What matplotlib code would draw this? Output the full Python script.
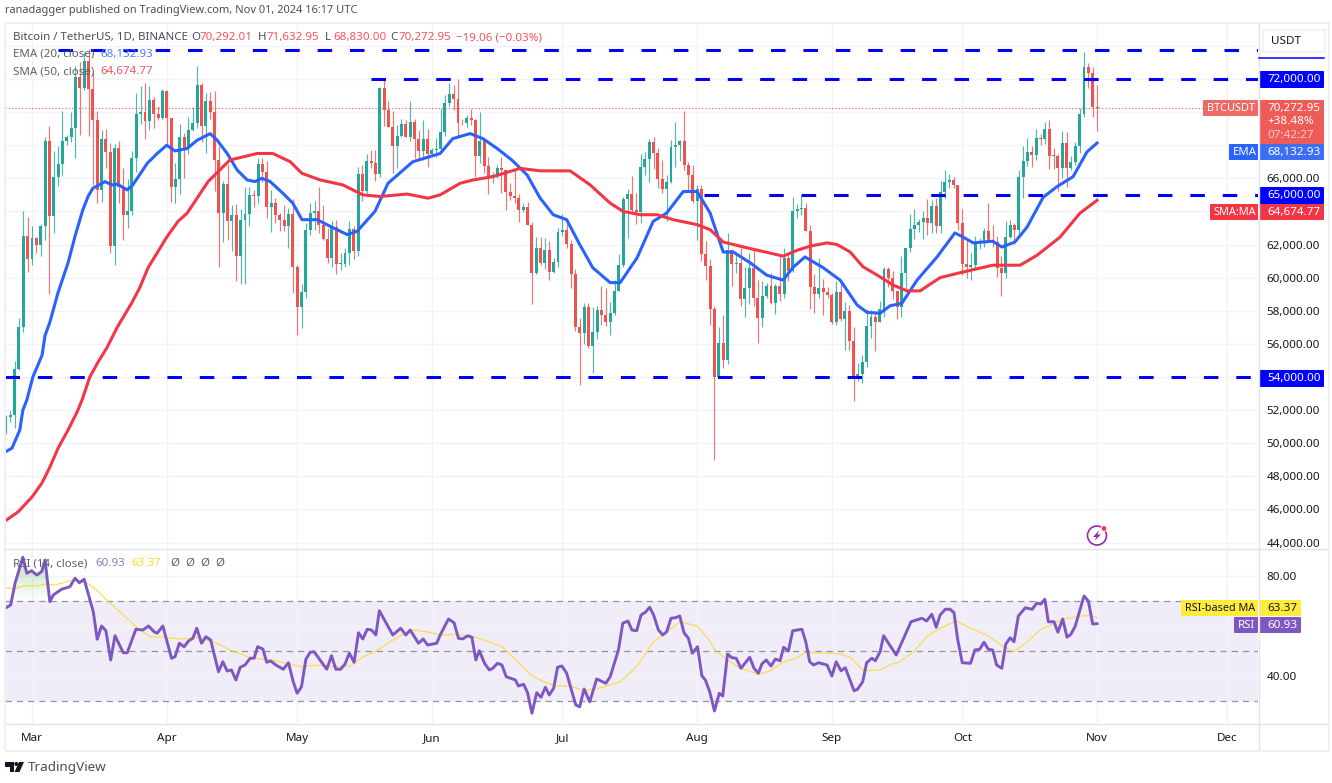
import matplotlib
matplotlib.use("Agg")
import matplotlib.pyplot as plt
import matplotlib.patches as mpatches
import numpy as np

plt.rcParams['font.family'] = ['Noto Sans', 'DejaVu Sans']

# prices in thousands of USDT, first candle is Feb 24 2024 (day -6, Mar 1 is day 0)
first_day = -6
opens = [50.73, 51.57, 51.73, 54.48, 57.04, 62.50,
    61.13, 62.39, 61.99, 63.11, 68.25, 63.72, 66.07, 66.88, 68.27, 68.50, 69.02, 72.10, 71.45, 73.07, 71.39, 69.50, 65.30, 68.39, 67.61, 61.94, 67.84, 65.50, 63.80, 64.04, 67.21, 69.88, 69.99, 69.45, 70.74, 69.89, 69.65,
    71.28, 69.65, 65.46, 65.96, 68.49, 67.84, 68.90, 69.36, 71.62, 69.15, 70.64, 70.01, 67.12, 63.92, 65.66, 63.42, 63.79, 61.28, 63.47, 63.82, 64.94, 64.93, 66.84, 66.41, 64.28, 64.50, 63.77, 63.46, 63.12, 63.87,
    60.67, 58.25, 59.12, 62.88, 63.89, 64.01, 63.16, 62.31, 61.19, 63.07, 60.80, 60.83, 61.48, 62.94, 61.58, 66.27, 65.23, 67.05, 66.94, 66.28, 71.45, 70.14, 69.12, 67.93, 68.53, 69.28, 68.51, 69.39, 68.37, 67.63, 68.35,
    67.49, 67.71, 67.75, 68.80, 70.57, 71.08, 70.79, 69.36, 69.31, 69.65, 69.51, 67.32, 68.24, 66.75, 66.01, 66.19, 66.64, 66.49, 65.15, 64.96, 64.83, 64.10, 64.25, 63.18, 60.28, 61.81, 60.86, 61.68, 60.32, 60.92,
    62.77, 62.90, 62.02, 60.20, 57.04, 56.64, 58.23, 55.85, 56.70, 58.04, 57.72, 57.34, 57.89, 59.20, 60.79, 64.72, 65.04, 64.09, 63.97, 66.71, 67.16, 68.17, 67.55, 65.93, 65.37, 65.78, 67.90, 68.00, 68.25, 66.78, 66.19,
    64.62, 65.36, 61.42, 60.68, 58.12, 53.99, 56.03, 55.03, 61.68, 60.82, 60.89, 58.71, 59.35, 60.60, 58.74, 57.56, 58.87, 59.48, 58.44, 59.49, 59.01, 61.16, 60.38, 64.04, 64.16, 64.22, 62.83, 59.42, 59.03, 59.37, 59.12,
    58.97, 57.30, 59.13, 57.48, 57.97, 56.16, 53.95, 54.16, 54.88, 57.05, 57.65, 57.34, 58.13, 60.50, 60.00, 59.21, 58.21, 60.31, 61.76, 62.95, 63.20, 63.35, 63.58, 63.33, 64.30, 63.14, 65.18, 65.77, 65.88, 65.60,
    63.33, 60.81, 60.63, 60.75, 62.08, 62.09, 62.82, 62.22, 62.13, 60.58, 60.27, 62.45, 63.19, 62.85, 66.05, 67.04, 67.61, 67.40, 68.43, 68.36, 69.00, 67.37, 67.36, 66.65, 68.16, 66.64, 67.01, 67.93, 69.91, 72.72, 72.34,
    70.29]
highs = [51.68, 51.96, 54.94, 57.59, 64.00, 63.68,
    63.11, 62.43, 63.23, 68.50, 69.17, 67.64, 67.98, 70.08, 68.59, 70.00, 72.80, 73.00, 73.65, 73.78, 72.42, 70.04, 68.90, 68.96, 68.12, 68.10, 68.24, 66.65, 65.97, 67.62, 71.15, 71.56, 71.77, 71.55, 70.90, 70.36, 71.37,
    71.34, 69.67, 66.90, 69.29, 68.72, 69.70, 70.33, 72.80, 71.76, 71.17, 71.23, 71.26, 67.93, 65.84, 66.87, 64.36, 64.47, 64.13, 65.45, 65.45, 65.30, 67.23, 67.21, 67.07, 65.27, 64.79, 63.92, 64.36, 64.23, 64.73,
    60.78, 59.60, 63.32, 64.50, 64.65, 65.50, 64.39, 62.98, 63.40, 63.47, 61.49, 61.82, 63.45, 63.10, 66.70, 66.80, 67.45, 67.70, 67.70, 71.52, 71.98, 70.65, 70.08, 69.22, 69.57, 69.50, 70.69, 69.56, 68.90, 69.50, 69.00,
    67.86, 68.45, 70.27, 71.06, 71.76, 71.63, 71.99, 69.58, 69.85, 70.20, 69.56, 70.00, 68.45, 67.30, 66.40, 66.80, 67.30, 66.58, 65.73, 66.48, 65.07, 64.52, 64.55, 63.37, 62.43, 62.48, 62.37, 62.19, 61.19, 63.00,
    63.86, 63.29, 62.30, 60.50, 57.55, 58.47, 58.45, 58.24, 58.30, 59.47, 59.40, 58.53, 59.85, 61.42, 64.90, 65.33, 66.13, 65.11, 67.47, 67.60, 68.37, 68.48, 67.80, 67.10, 66.17, 68.30, 69.40, 68.32, 70.08, 67.00, 66.80,
    65.59, 65.60, 62.19, 61.11, 58.29, 57.04, 57.72, 62.67, 61.74, 61.40, 61.82, 60.64, 61.50, 61.73, 59.84, 59.80, 59.65, 60.26, 59.60, 61.40, 61.80, 61.40, 64.90, 64.47, 65.00, 64.49, 63.20, 60.20, 61.17, 59.90, 59.43,
    59.08, 59.80, 59.81, 58.52, 58.33, 57.00, 54.85, 55.30, 58.10, 58.04, 58.00, 58.60, 60.67, 60.66, 60.40, 59.21, 61.32, 61.79, 63.87, 64.13, 63.56, 64.00, 64.75, 64.69, 64.80, 65.84, 66.50, 66.26, 66.08, 65.60,
    64.13, 62.39, 61.47, 62.50, 62.37, 62.98, 64.48, 63.20, 62.54, 61.32, 63.42, 63.48, 63.28, 66.50, 67.95, 68.42, 67.94, 68.97, 68.69, 69.40, 69.52, 67.84, 67.45, 68.84, 68.77, 67.32, 68.22, 70.27, 73.62, 72.96, 72.70,
    71.63]
lows = [50.58, 51.28, 50.90, 54.45, 56.69, 60.37,
    60.79, 61.46, 61.32, 62.30, 59.00, 62.70, 65.55, 66.20, 68.00, 68.20, 67.20, 68.62, 71.33, 68.56, 65.60, 64.52, 64.55, 66.60, 61.50, 60.78, 64.53, 62.26, 63.00, 63.80, 66.39, 69.28, 68.38, 68.90, 69.05, 69.50, 69.60,
    68.06, 64.55, 64.49, 65.06, 66.01, 67.45, 68.85, 69.04, 68.21, 67.52, 69.57, 65.25, 60.66, 62.13, 62.30, 61.63, 59.77, 59.60, 59.60, 63.10, 64.24, 64.50, 65.75, 63.60, 62.78, 63.32, 62.79, 62.80, 61.76, 59.10,
    56.55, 56.94, 58.80, 62.58, 62.90, 62.70, 62.25, 60.90, 60.65, 60.19, 60.49, 60.63, 60.75, 61.15, 61.31, 64.60, 65.12, 66.60, 65.86, 66.06, 69.16, 69.12, 66.30, 66.60, 68.50, 68.50, 68.25, 67.20, 67.11, 67.13, 66.67,
    67.39, 67.26, 67.60, 68.56, 70.38, 70.12, 68.50, 69.20, 69.12, 69.21, 66.05, 66.90, 66.30, 65.08, 65.70, 66.00, 65.10, 64.06, 64.69, 64.50, 63.38, 63.94, 63.20, 58.40, 60.24, 60.77, 60.50, 59.85, 60.28, 60.64,
    62.50, 61.80, 59.40, 56.77, 53.49, 56.01, 55.72, 54.26, 56.29, 57.16, 57.05, 56.52, 57.77, 59.22, 60.63, 62.38, 63.90, 63.23, 63.30, 66.22, 65.78, 66.57, 65.44, 65.10, 63.42, 65.74, 66.67, 67.07, 66.48, 65.30, 64.53,
    62.25, 61.00, 59.85, 57.13, 49.00, 53.95, 54.56, 54.76, 59.50, 60.30, 58.30, 57.64, 58.40, 58.30, 56.08, 57.00, 58.79, 58.42, 57.80, 58.60, 58.80, 59.80, 60.35, 63.60, 63.80, 62.80, 58.12, 57.85, 58.75, 57.75, 58.76,
    57.20, 57.12, 57.41, 55.60, 55.60, 52.55, 53.74, 53.63, 54.59, 56.38, 55.55, 57.32, 57.63, 59.46, 58.70, 57.49, 57.61, 59.17, 61.57, 62.35, 62.75, 62.35, 62.60, 62.70, 62.70, 62.67, 64.84, 65.42, 65.42, 62.85,
    60.16, 59.98, 59.83, 60.45, 61.70, 61.83, 62.13, 61.86, 60.05, 58.90, 60.00, 62.41, 62.05, 62.44, 64.80, 66.75, 66.67, 67.12, 68.02, 68.10, 66.57, 66.57, 65.26, 66.00, 65.50, 66.50, 66.80, 67.50, 69.73, 71.44, 69.68,
    68.83]
closes = [51.57, 51.73, 54.48, 57.04, 62.50, 61.13,
    62.39, 61.99, 63.11, 68.25, 63.72, 66.07, 66.88, 68.27, 68.50, 69.02, 72.10, 71.45, 73.07, 71.39, 69.50, 65.30, 68.39, 67.61, 61.94, 67.84, 65.50, 63.80, 64.04, 67.21, 69.88, 69.99, 69.45, 70.74, 69.89, 69.65, 71.28,
    69.65, 65.46, 65.96, 68.49, 67.84, 68.90, 69.36, 71.62, 69.15, 70.64, 70.01, 67.12, 63.92, 65.66, 63.42, 63.79, 61.28, 63.47, 63.82, 64.99, 64.93, 66.84, 66.41, 64.28, 64.50, 63.77, 63.46, 63.12, 63.87, 60.67,
    58.25, 59.12, 62.88, 63.89, 64.01, 63.16, 62.31, 61.19, 63.07, 60.80, 60.83, 61.48, 62.94, 61.58, 66.27, 65.23, 67.05, 66.94, 66.28, 71.45, 70.14, 69.12, 67.93, 68.53, 69.28, 68.51, 69.39, 68.37, 67.63, 68.35, 67.49,
    67.71, 67.75, 68.80, 70.57, 71.08, 70.79, 69.36, 69.31, 69.65, 69.51, 67.32, 68.24, 66.75, 66.01, 66.19, 66.64, 66.49, 65.15, 64.96, 64.83, 64.10, 64.25, 63.18, 60.28, 61.81, 60.86, 61.68, 60.32, 60.92, 62.77,
    62.90, 62.02, 60.20, 57.04, 56.64, 58.23, 55.85, 56.70, 58.04, 57.72, 57.34, 57.89, 59.20, 60.79, 64.72, 65.04, 64.09, 63.97, 66.71, 67.16, 68.17, 67.55, 65.93, 65.37, 65.78, 67.90, 68.00, 68.25, 66.78, 66.19, 64.62,
    65.36, 61.42, 60.68, 58.12, 53.99, 56.03, 55.03, 61.68, 60.82, 60.89, 58.71, 59.35, 60.60, 58.74, 57.56, 58.87, 59.48, 58.44, 59.49, 59.01, 61.16, 60.38, 64.04, 64.16, 64.22, 62.83, 59.42, 59.03, 59.37, 59.12, 58.97,
    57.30, 59.13, 57.48, 57.97, 56.16, 53.95, 54.16, 54.88, 57.05, 57.65, 57.34, 58.13, 60.50, 60.00, 59.21, 58.21, 60.31, 61.76, 62.95, 63.20, 63.35, 63.58, 63.33, 64.30, 63.14, 65.18, 65.77, 65.88, 65.60, 63.33,
    60.81, 60.63, 60.75, 62.08, 62.09, 62.82, 62.22, 62.13, 60.58, 60.27, 62.45, 63.19, 62.85, 66.05, 67.04, 67.61, 67.40, 68.43, 68.36, 69.00, 67.37, 67.36, 66.65, 68.16, 66.64, 67.01, 67.93, 69.91, 72.72, 72.34, 70.29,
    70.27]

ema_days = [-6.2, -4.6, -2.8, -2.1, -1.2, 0.2, 2.3, 3, 4.1, 6, 8.3, 9.9, 11.7, 12.9, 14, 16.8, 18.4, 19.6, 21.9, 23.2, 26.5, 28.8, 31, 32.9, 35.7, 38, 41, 42.6, 44.9, 47.2, 49.5, 51.3, 52.9, 54.8, 57.7, 60, 62.1, 65.6, 68.6, 72.5, 74.8, 78.9, 81.9, 87.6, 93.9, 96.8, 100.8, 103.7, 107, 110.4, 113.9, 116.9, 119.9, 123, 126, 129, 133, 135.3, 139.2, 142.9, 146, 149.8, 153, 156, 159, 161.3, 165.2, 169, 172.8, 175, 177.8, 182, 185.9, 189.8, 192.1, 195.1, 197.4, 200.1, 203.6, 208.2, 212.3, 214.2, 216.5, 221, 223.1, 226.1, 228.9, 232.6, 235.8, 239.5, 242.7, 245]
ema_vals = [49.47, 49.7, 50.8, 52.0, 52.6, 54.0, 55.3, 56.5, 57.3, 59.1, 60.9, 62.5, 64.1, 64.9, 65.4, 65.8, 65.6, 65.65, 65.3, 65.6, 66.9, 67.5, 68.0, 67.65, 67.8, 68.3, 68.7, 68.3, 67.5, 66.5, 65.9, 65.8, 66.0, 65.8, 65.1, 64.5, 63.5, 63.5, 63.1, 62.6, 62.8, 64.0, 65.7, 67.0, 67.5, 68.4, 68.7, 68.4, 67.8, 67.1, 66.2, 64.8, 63.8, 63.5, 62.0, 60.6, 59.7, 59.7, 61.2, 63.4, 63.9, 65.2, 65.2, 63.9, 61.55, 61.55, 60.9, 60.15, 59.85, 60.6, 61.25, 60.6, 59.85, 58.35, 57.9, 57.85, 58.3, 58.45, 59.85, 61.25, 62.7, 62.45, 62.1, 62.2, 61.85, 62.15, 63.05, 64.85, 65.5, 66.1, 67.6, 68.13]

sma_days = [-6.2, -3.2, 0, 2.3, 4.1, 6, 8.3, 10.4, 11.5, 13.3, 15.2, 17.3, 19.6, 23, 24.8, 26.7, 28.8, 31, 33.6, 35.7, 40.5, 45.5, 51.8, 55.4, 59.4, 62.1, 66.3, 71.5, 76.1, 80.1, 86.3, 91.1, 93.9, 98.5, 101.5, 106, 112.3, 116.9, 123.8, 128.4, 133, 136, 139.9, 143.8, 147.5, 153, 156, 159, 164.5, 172.8, 176, 179, 182.9, 185.2, 188.2, 191.2, 193.5, 198.1, 201.3, 204.3, 208.9, 213.5, 221, 227.3, 231.2, 236.5, 241.1, 245]
sma_vals = [45.3, 45.85, 46.75, 47.6, 48.55, 49.7, 50.8, 51.9, 52.6, 54.0, 54.9, 55.8, 57.0, 58.5, 59.4, 60.6, 61.5, 62.45, 63.4, 63.9, 65.8, 67.1, 67.5, 67.5, 67.0, 66.3, 65.9, 65.6, 65.0, 64.9, 65.05, 64.8, 65.0, 65.7, 65.9, 66.1, 66.6, 66.45, 66.45, 65.6, 64.5, 64.0, 63.8, 63.8, 63.5, 63.2, 62.9, 62.15, 61.8, 61.3, 61.65, 61.9, 62.1, 62.0, 61.55, 60.65, 60.3, 59.55, 59.2, 59.2, 60.0, 60.3, 60.75, 60.75, 61.35, 62.45, 63.9, 64.67]

rsi_days = [-6.2, -4.9, -3.9, -2.1, -1.2, -0.1, 1.1, 2.2, 3, 4.1, 4.9, 6.8, 8.7, 9.9, 10.9, 12, 14.1, 15, 16, 17, 18.1, 19.1, 21, 21.9, 23.9, 25.5, 26.8, 28.1, 28.8, 30.1, 32.1, 32.9, 33.9, 35, 36, 37, 37.9, 39, 40, 41.1, 42.9, 43.9, 44.9, 45.9, 46.9, 47.9, 49, 50.2, 51.1, 51.9, 53.1, 54, 54.9, 56.1, 57.8, 59, 60.1, 61, 62, 63, 64, 64.9, 67.8, 68.9, 69.9, 71, 72, 73, 74.1, 75.1, 76.1, 77.1, 78.1, 79.1, 79.9, 83, 84.8, 86, 87, 88.9, 90, 91, 93.1, 93.9,
    95.8, 97.1, 98.1, 99.1, 100.2, 101.2, 102.1, 102.9, 104.1, 105.2, 106, 107.1, 108.1, 109.1, 111.2, 111.9, 113.1, 114, 115, 116.1, 117.1, 118.1, 119, 120, 120.9, 121.9, 123, 124.2, 125.1, 126, 127, 128.3, 129.9, 132, 133, 134.9, 135.9, 137.1, 138, 139.1, 140.1, 141.1, 142.1, 143, 144.1, 145.1, 146, 147, 148, 149, 150, 151, 151.9, 153.1, 154.1, 154.9, 155.9, 157, 158.1, 158.9, 160, 161, 162, 163.1, 165.1, 166.1, 167.1, 167.9, 168.9, 170, 171, 172.1, 172.9, 174, 175, 177.1, 178, 178.9, 179.8, 180.9, 182.9, 184, 185, 186.1, 187.1, 188.1, 189.1, 189.9, 191.1, 192, 193.2, 194, 195.1,
    195.9, 198.8, 202.2, 204.7, 205.8, 207, 208, 208.9, 210.1, 211.2, 212.1, 212.9, 214, 215.9, 216.9, 218, 219, 220, 221, 221.9, 223.1, 224, 225, 225.9, 226.9, 228.5, 230.1, 231.1, 232.1, 233, 233.8, 235.1, 236, 237.1, 238.1, 239, 240, 242, 243, 244, 245]
rsi_vals = [67.1, 68.4, 77.1, 87.5, 81.1, 82.1, 80.4, 81.7, 86.4, 69.7, 72.4, 74.7, 75.7, 79.1, 77.3, 78.7, 65.7, 54.7, 60, 58.1, 46.4, 56.1, 49.3, 49.3, 58.7, 58.4, 60, 57.7, 57.1, 60, 47.1, 47.7, 53.1, 51.7, 54, 55.1, 59.1, 53.1, 55.7, 54.4, 41.7, 45.7, 42, 42.4, 38.4, 43.5, 44.4, 47.1, 47.1, 51.7, 50.8, 45.5, 46, 44.4, 42.7, 45.3, 37.7, 33.1, 35.7, 46.7, 49.5, 49.7, 42.7, 48.1, 42.7, 42.7, 44.8, 49.1, 45.5, 57.3, 54.8, 58.7, 58.4, 56.4, 66.1, 56.4, 59.1, 56.4, 58.4, 53.1, 54.8, 52.4, 53.1, 56.4,
    62.8, 61.3, 55.1, 54.8, 56.1, 55.5, 46.4, 50.1, 45.1, 42.4, 43.1, 45.1, 44.4, 39.7, 38.4, 36, 36.7, 33.3, 25.1, 33.3, 31.5, 35.5, 32.4, 35.1, 43.5, 44, 41.1, 33.7, 28.4, 27.7, 34.8, 29.7, 38.8, 37.1, 39.7, 50.4, 61.1, 62, 58.4, 58.1, 64.4, 65.5, 67.5, 64.4, 58.4, 56.4, 57.7, 63.1, 63.3, 64, 57.3, 55.1, 49.1, 51.7, 40.1, 38.4, 33.7, 26, 33.1, 32, 48.8, 47.3, 47.1, 43.1, 47.5, 43.1, 41.1, 44.8, 46.4, 44, 46.8, 46.1, 51.5, 50, 58.1, 58.7, 53.7, 45.7, 44.4, 45.3, 44.4, 40, 45.7, 42.1, 43.3, 38.7, 34.1, 34.7, 37.7, 45.3, 47.1, 46.1, 49.7,
    56.1, 48.4, 61.7, 63.1, 62, 64.7, 59.5, 64.4, 66.7, 66.7, 65.3, 55.1, 45.3, 45.1, 50.4, 50.7, 53.5, 50.7, 50.4, 44.4, 43.1, 52.7, 55.3, 53.7, 64, 67.3, 66.7, 69.1, 68.8, 70.7, 61.7, 61.7, 57.5, 62.8, 55.5, 56.7, 60, 72, 70, 60.8, 60.93]

rsi_ma_days = [-6.2, -4.3, -2, 1.1, 3, 5.3, 9.9, 12.7, 14.9, 17.2, 20.2, 24.1, 27.1, 30.2, 34, 37.9, 41.7, 45.6, 50.2, 55, 58.6, 62, 65.5, 69.3, 73.2, 76.2, 78.9, 82.4, 85.4, 87.7, 90.8, 93.9, 97.3, 101.6, 104.6, 108.1, 111.5, 115, 117.7, 120.4, 123.8, 126.9, 130.7, 135.3, 139.1, 143, 146, 149.1, 153, 155.2, 157.2, 159.1, 162.9, 167.1, 169.8, 172.9, 175.2, 177.9, 182.1, 185.9, 188.2, 191.3, 195.1, 197.8, 199.7, 202.8, 205.8, 208.9, 212.7, 215.8, 219.6, 223.5, 225.8, 228.1, 231.9, 237.3, 241.9, 243.8, 245]
rsi_ma_vals = [75.5, 74.8, 76, 76, 76.8, 76.4, 78.7, 77.1, 74.4, 70.4, 65.7, 59.5, 55.7, 55.5, 54.8, 55.3, 53.7, 50.4, 47.3, 46.4, 45.1, 43.7, 44.4, 43.7, 44, 47.7, 49.7, 53.7, 56.8, 58.4, 57.7, 56.4, 56.7, 55.7, 54, 51.7, 46.1, 40.1, 37.7, 36, 36, 34.1, 35.3, 37.7, 43.7, 53.7, 57.7, 61.7, 60, 55.7, 50.4, 47.5, 43.1, 40.7, 42, 45.7, 46.7, 49.3, 49.3, 48.8, 47.5, 42.1, 42.4, 44.8, 45.7, 49.7, 55.7, 59.1, 62, 59.1, 56.4, 51.7, 49.7, 52.4, 58.4, 62.8, 64.1, 64.1, 63.37]

# support / resistance lines drawn on the chart: price and first day
level_prices = [73.75, 72.0, 65.0, 54.0]
level_starts = [6, 78, 154.6, -6.2]
last_price = 70.27

month_days = [0, 31, 61, 92, 122, 153, 184, 214, 245, 275]
month_names = ['Mar', 'Apr', 'May', 'Jun', 'Jul', 'Aug', 'Sep', 'Oct', 'Nov', 'Dec']
price_ticks = list(range(44, 76, 2))
hidden_price_ticks = [54, 64, 68, 70, 72, 74]  # sit behind the price tags
rsi_ticks = [40, 60, 80]
hidden_rsi_ticks = [60]

UP = '#26a69a'
DOWN = '#ef5350'
BLUE = '#0000ff'
EMA_C = '#2962ff'
SMA_C = '#f23645'
RSI_C = '#7e57c2'
YEL = '#ffeb3b'
GRID = '#f0f3fa'
BORDER = '#e0e3eb'
TXT = '#131722'

W, H = 1332, 783
fig = plt.figure(figsize=(W / 100, H / 100), dpi=100, facecolor='white')


def px_axes(x0, y0, x1, y1, **kw):
    return fig.add_axes([x0 / W, 1 - y1 / H, (x1 - x0) / W, (y1 - y0) / H], **kw)


ax = px_axes(5, 23, 1258, 548)
ax_rsi = px_axes(5, 549, 1258, 723)
XLIM = (-6.21, 282.03)

days = np.arange(first_day, first_day + len(closes))
o, h, l, c = map(np.array, (opens, highs, lows, closes))
colors = np.where(c >= o, UP, DOWN)

for a in (ax, ax_rsi):
    for s in a.spines.values():
        s.set_visible(False)
    a.set_axisbelow(True)
    a.grid(True, color=GRID, lw=1)
    a.yaxis.tick_right()
    a.tick_params(length=0, labelsize=8.4, labelcolor=TXT)
    a.tick_params(axis='y', pad=6.3)
    a.set_xticks(month_days)

# candles
ax.vlines(days, l, h, colors=colors, lw=0.85, alpha=0.8, zorder=2)
ax.bar(days, np.maximum(np.abs(c - o), 0.06), bottom=np.minimum(o, c), width=0.68, color=colors, lw=0, zorder=3)
ax.plot(ema_days, ema_vals, color=EMA_C, lw=2.2, zorder=4, solid_joinstyle='round')
ax.plot(sma_days, sma_vals, color=SMA_C, lw=2.2, zorder=4, solid_joinstyle='round')
ax.axhline(last_price, color=DOWN, lw=0.8, ls=(0, (1, 2)), zorder=2)
for price, start in zip(level_prices, level_starts):
    ax.plot([start, XLIM[1]], [price, price], color=BLUE, lw=2.2, ls=(0, (4.75, 5.85)), zorder=5)

ax.set_xlim(XLIM)
ax.set_ylim(43.67, 75.38)
ax.set_yticks(price_ticks)
ax.set_yticklabels(['' if t in hidden_price_ticks else f'{t},000.00' for t in price_ticks])
ax.set_xticklabels([])

# rsi pane
ax_rsi.axhspan(30, 70, color=RSI_C, alpha=0.1, lw=0, zorder=0)
for lvl in (70, 50, 30):
    ax_rsi.axhline(lvl, color='#787b86', lw=0.9, ls=(0, (5, 4)), alpha=0.8, zorder=1)
fill = ax_rsi.fill_between(rsi_days, rsi_vals, 70, where=np.array(rsi_vals) > 70, interpolate=True, color='none', lw=0)
grad = np.zeros((64, 1, 4))
grad[:, 0, :3] = matplotlib.colors.to_rgb('#4caf50')
grad[:, 0, 3] = np.linspace(0.4, 0.0, 64)
im = ax_rsi.imshow(grad, extent=[XLIM[0], XLIM[1], 70, 88], aspect='auto', zorder=1)
im.set_clip_path(fill.get_paths()[0], transform=ax_rsi.transData)
ax_rsi.plot(rsi_ma_days, rsi_ma_vals, color='#fdd835', lw=0.9, alpha=0.85, zorder=2)
ax_rsi.plot(rsi_days, rsi_vals, color=RSI_C, lw=2.1, zorder=3)
ax_rsi.set_xlim(XLIM)
ax_rsi.set_ylim(21.2, 90.8)
ax_rsi.set_yticks(rsi_ticks)
ax_rsi.set_yticklabels(['' if t in hidden_rsi_ticks else f'{t:.2f}' for t in rsi_ticks])
ax_rsi.set_xticklabels(month_names)
ax_rsi.tick_params(axis='x', pad=7)

# overlay in screen pixels for the frame, price tags and legend
ov = fig.add_axes([0, 0, 1, 1], facecolor='none', zorder=10)
ov.set_xlim(0, W)
ov.set_ylim(H, 0)
ov.axis('off')


def text(x, y, s, color=TXT, size=8.4, **kw):
    kw.setdefault('va', 'center')
    kw.setdefault('ha', 'left')
    ov.text(x, y, s, color=color, fontsize=size, **kw)


def box(x0, y0, x1, y1, color, **kw):
    ov.add_patch(mpatches.FancyBboxPatch((x0 + 1, y0 + 1), x1 - x0 - 2, y1 - y0 - 2,
                                         boxstyle='round,pad=1', fc=color, ec='none', **kw))


# frame
for xs, ys, col, lw in [((4.5, 4.5), (23, 750), '#eef0f5', 1.5), ((1328.5, 1328.5), (23, 750), '#eef0f5', 1.5),
                        ((4.5, 1328.5), (23, 23), '#eef0f5', 1.5), ((4.5, 1328.5), (750.5, 750.5), '#eef0f5', 1.5),
                        ((5, 1328), (548.5, 548.5), BORDER, 1), ((5, 1328), (723.5, 723.5), BORDER, 1),
                        ((1258.5, 1258.5), (23, 750), BORDER, 1)]:
    ov.plot(xs, ys, color=col, lw=lw, solid_capstyle='butt')

# header and legend
text(5, 11, 'ranadagger published on TradingView.com, Nov 01, 2024 16:17 UTC', '#4a4e5a', 7.95)
text(13, 37.5, 'Bitcoin / TetherUS, 1D, BINANCE', '#4a4e5a', 8.3)
for x, lab, val in [(191, 'O', '70,292.01'), (258, 'H', '71,632.95'), (325, 'L', '68,830.00'), (390, 'C', '70,272.95')]:
    text(x, 37.5, lab, '#4a4e5a', 8.3)
    text(x + 8.5, 37.5, val, '#f7525f', 8.3)
text(456, 37.5, '\u221219.06 (\u22120.03%)', '#f7525f', 8.3)
text(13, 54.5, 'EMA (20, close)', '#5d606b', 8.3)
text(100, 54.5, '68,132.93', '#4f7dff', 8.3)
text(13, 71.5, 'SMA (50, close)', '#5d606b', 8.3)
text(100, 71.5, '64,674.77', '#f7525f', 8.3)
text(13, 563.5, 'RSI (14, close)', '#5d606b', 8.3)
text(95, 563.5, '60.93', '#9575cd', 8.3)
text(131, 563.5, '63.37', '#fdd835', 8.3)
for x in (170, 185, 200, 215):
    text(x, 563.5, '\u00d8', '#5d606b', 8.3)

# right side tags
ov.add_patch(mpatches.FancyBboxPatch((1264, 31), 60, 20, boxstyle='round,pad=1', fc='white', ec='#eceef3', lw=1))
text(1271, 41, 'USDT', TXT, 8.4)
ov.plot([1259, 1324], [57.5, 57.5], color=BLUE, lw=1.1)

box(1259, 71, 1324, 88, BLUE)
text(1267, 79.5, '72,000.00', 'white', 8.4)
box(1203, 100, 1258, 116, '#ee6a67')
text(1206.5, 108.5, 'BTCUSDT', 'white', 7.9)
box(1259, 100, 1324, 144, '#ee5c58')
text(1267, 108, '70,272.95', 'white', 8.4)
text(1267, 121, '+38.48%', 'white', 8.4)
text(1267, 135, '07:42:27', '#ffc9c7', 8.4)
box(1229, 144, 1258, 160, EMA_C)
text(1233, 152.5, 'EMA', 'white', 8.2)
box(1259, 144, 1324, 160, '#3d6ff5')
text(1267, 152, '68,132.93', 'white', 8.4)
box(1259, 187, 1324, 204, BLUE)
text(1267, 195.5, '65,000.00', 'white', 8.4)
box(1210, 204, 1258, 220, SMA_C)
text(1213.5, 212.5, 'SMA:MA', 'white', 7.9)
box(1259, 204, 1324, 220, SMA_C)
text(1267, 212, '64,674.77', 'white', 8.4)
box(1259, 370, 1324, 387, BLUE)
text(1267, 378.5, '54,000.00', 'white', 8.4)
box(1181, 600, 1258, 616, YEL)
text(1185, 608.5, 'RSI-based MA', TXT, 7.8)
box(1259, 600, 1301, 616, YEL)
text(1267, 608.5, '63.37', TXT, 8.4)
box(1234, 617, 1258, 633, RSI_C)
text(1238, 625.5, 'RSI', 'white', 8.2)
box(1259, 617, 1301, 633, RSI_C)
text(1267, 625, '60.93', 'white', 8.4)

# lightning badge
ov.add_patch(mpatches.Circle((1097, 535.5), 9.5, fc='white', ec='#9c27b0', lw=1.2))
ov.add_patch(mpatches.Polygon([(1099.5, 530), (1093, 537), (1096.5, 537), (1094.5, 541), (1101, 534.5), (1097.5, 534.5)], fc='#9c27b0', ec='none'))
ov.add_patch(mpatches.Circle((1104, 528.5), 2.8, fc='#f23645', ec='white', lw=0.6))

# tradingview logo
ov.add_patch(mpatches.Polygon([(5, 762), (14, 762), (14, 772), (9.5, 772), (9.5, 766.5), (5, 766.5)], fc='#131722', ec='none'))
ov.add_patch(mpatches.Circle((16.3, 764), 2, fc='#131722', ec='none'))
ov.add_patch(mpatches.Polygon([(19, 762), (24, 762), (19.5, 772), (14.5, 772)], fc='#131722', ec='none'))
text(28, 767.5, 'TradingView', '#4a4e5a', 9.7)

fig.savefig('out.png', dpi=100, facecolor='white')
